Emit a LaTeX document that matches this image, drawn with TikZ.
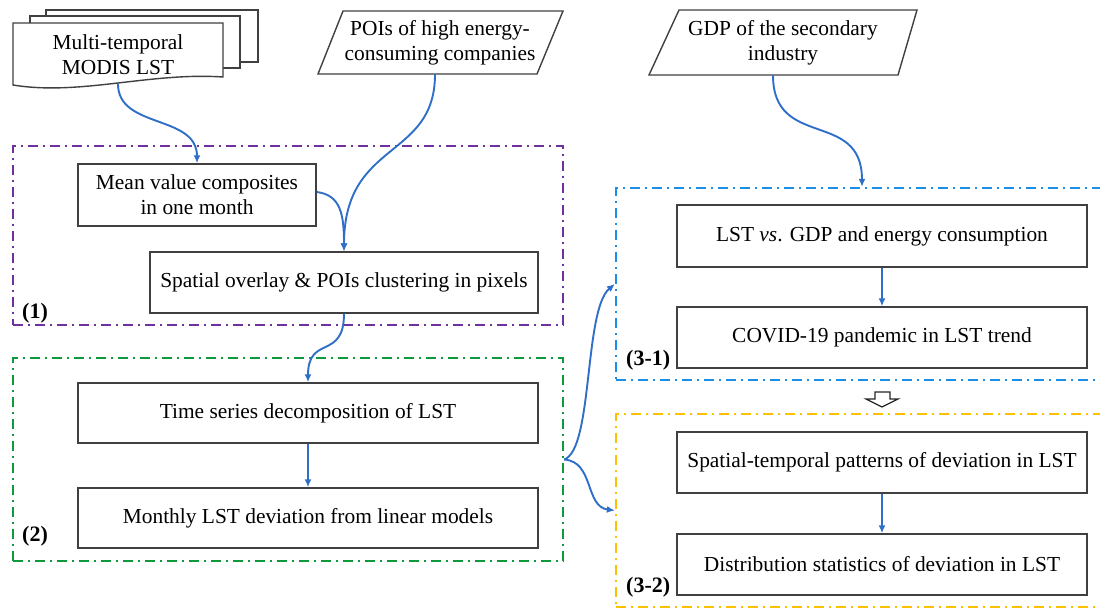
\documentclass[tikz,border=0pt]{standalone}
\usepackage{fontspec}
\setmainfont{Liberation Serif}
\usetikzlibrary{arrows.meta}
\definecolor{fpurple}{HTML}{7030A0}
\definecolor{fgreen}{HTML}{0E9A3C}
\definecolor{fblue}{HTML}{1C8EE6}
\definecolor{fyellow}{HTML}{FFC000}
\definecolor{arrblue}{HTML}{2F6FC8}
\definecolor{boxgray}{HTML}{404040}
\newcommand\mainfs{\fontsize{21.4}{25}\selectfont}
\newcommand\tagfs{\fontsize{22}{26}\selectfont\bfseries}
\begin{document}
\begin{tikzpicture}[x=1pt,y=-1pt,
  box/.style={draw=boxgray, line width=1.4pt, fill=white, align=center, inner sep=0pt, font=\mainfs},
  txt/.style={align=center, inner sep=0pt, font=\mainfs},
  frame/.style={draw, line width=2.3pt, dash pattern=on 10pt off 5pt on 2pt off 5pt, inner sep=0pt},
  conn/.style={draw=arrblue, line width=1.9pt, -{Latex[length=8pt,width=7pt]}},
  tag/.style={font=\tagfs, anchor=base west, inner sep=0pt},
  shp/.style={draw=boxgray, line width=1.4pt, fill=white}]
\useasboundingbox (0,0) rectangle (1100,611);
\clip (0,0) rectangle (1100,611);

% frames
\node[frame, draw=fpurple, minimum width=550pt, minimum height=179pt] (f1) at (288,235.5) {};
\node[frame, draw=fgreen, minimum width=550pt, minimum height=203pt] (f2) at (288,459.5) {};
\node[frame, draw=fblue, minimum width=488pt, minimum height=192pt] (f31) at (860,284) {};
\node[frame, draw=fyellow, minimum width=488pt, minimum height=193pt] (f32) at (860,510.5) {};

% multi-document
\draw[shp] (46,10) rectangle (258,62);
\draw[shp] (30,16) rectangle (240,68);
\draw[shp] (13,23) -- (223,23) -- (223,77) .. controls (150,72) and (80,96) .. (13,85) -- cycle;
\node[txt] (lst) at (118,55) {Multi-temporal\\MODIS LST};
\coordinate (lstb) at (118,84);

% parallelograms
\draw[shp] (343,11) -- (563,11) -- (537,74) -- (318,74) -- cycle;
\node[txt, minimum height=63pt] (poi) at (440,42.5) {POIs of high energy-\\consuming companies};
\draw[shp] (679,10) -- (917,10) -- (898,75) -- (649,75) -- cycle;
\node[txt, minimum height=64pt] (gdp) at (783,43) {GDP of the secondary\\industry};

% boxes
\node[box, minimum width=238pt, minimum height=62pt] (mean) at (197,195) {Mean value composites\\in one month};
\node[box, minimum width=388pt, minimum height=61pt] (spat) at (344,282.5) {Spatial overlay \& POIs clustering in pixels};
\node[box, minimum width=460pt, minimum height=60pt] (ts) at (308,413) {Time series decomposition of LST};
\node[box, minimum width=460pt, minimum height=60pt] (mon) at (308,518) {Monthly LST deviation from linear models};
\node[box, minimum width=410pt, minimum height=62pt] (lg) at (882,236) {LST \textit{vs}. GDP and energy consumption};
\node[box, minimum width=410pt, minimum height=61pt] (cov) at (882,337.5) {COVID-19 pandemic in LST trend};
\node[box, minimum width=410pt, minimum height=61pt] (spt) at (882,462.5) {Spatial-temporal patterns of deviation in LST};
\node[box, minimum width=410pt, minimum height=61pt] (dist) at (882,564.5) {Distribution statistics of deviation in LST};

% tags
\node[tag] (t1) at (22,318) {(1)};
\node[tag] (t2) at (22,541) {(2)};
\node[tag] (t31) at (626,365) {(3-1)};
\node[tag] (t32) at (626,592) {(3-2)};

% connectors
\draw[conn] (lstb) .. controls +(0,45) and +(0,-49) .. (mean.north);
\draw[conn] ([xshift=-5pt]poi.south) .. controls +(0,86) and +(0,-112) .. (spat.north);
\draw[conn] ([yshift=3pt]mean.east) .. controls +(24,3) and +(0,-37) .. (spat.north);
\draw[conn] (spat.south) .. controls +(0,47) and +(0,-48) .. (ts.north);
\draw[conn] (ts) -- (mon);
\draw[conn] ([xshift=-10pt]gdp.south) .. controls +(0,75) and +(0,-78) .. ([xshift=2pt]f31.north);
\draw[conn] (lg) -- (cov);
\draw[conn] (spt) -- (dist);
\draw[conn] (f2.east) .. controls +(29,-10) and +(-31,26) .. (f31.west);
\draw[conn] (f2.east) .. controls +(30,2) and +(-30,-4) .. (f32.west);

% hollow arrow between (3-1) and (3-2)
\draw[draw=black!85, line width=1.2pt, fill=white] (875,392) -- (890,392) -- (890,399) -- (898,399) -- (882,407) -- (866,399) -- (875,399) -- cycle;
\end{tikzpicture}
\end{document}
